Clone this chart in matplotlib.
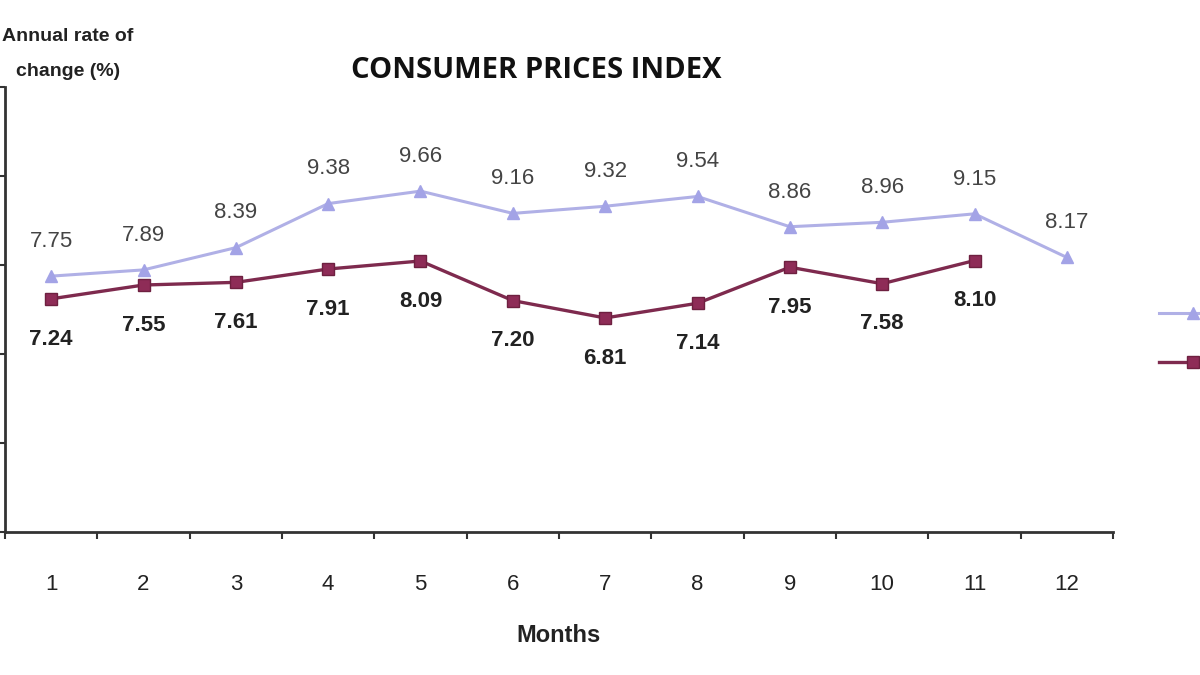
import matplotlib
matplotlib.use("Agg")
import matplotlib.pyplot as plt
from matplotlib.ticker import FixedLocator, NullFormatter

plt.rcParams['font.family'] = ['Liberation Sans', 'DejaVu Sans']

months = [1, 2, 3, 4, 5, 6, 7, 8, 9, 10, 11, 12]
month_labels = [str(m) for m in months]
prev_year = [7.75, 7.89, 8.39, 9.38, 9.66, 9.16, 9.32, 9.54, 8.86, 8.96, 9.15, 8.17]
this_year = [7.24, 7.55, 7.61, 7.91, 8.09, 7.20, 6.81, 7.14, 7.95, 7.58, 8.10]
series_names = ['2011', '2012']
y_ticks = [2, 4, 6, 8, 10, 12]

fig = plt.figure(figsize=(12, 6.75), dpi=100)
ax = fig.add_axes([5/1200, 1-532/675, 1108/1200, 445/675])

up_col = '#B0B0E6'
low_col = '#7E2A4E'

l1, = ax.plot(months, prev_year, color=up_col, lw=2.2, marker='^', ms=8,
              mfc='#A3A3E6', mec='#A3A3E6', clip_on=False, label=series_names[0])
l2, = ax.plot(months[:len(this_year)], this_year, color=low_col, lw=2.4,
              marker='s', ms=9, mfc='#8E2C57', mec='#6E2040', clip_on=False,
              label=series_names[1])

for m, v in zip(months, prev_year):
    ax.annotate('%.2f' % v, (m, v), xytext=(0, 25), textcoords='offset points',
                ha='center', va='center', fontsize=16, color='#444444')
for m, v in zip(months, this_year):
    ax.annotate('%.2f' % v, (m, v), xytext=(0, -29), textcoords='offset points',
                ha='center', va='center', fontsize=16, fontweight='bold',
                color='#222222')

ax.set_xlim(0.5, 12.5)
ax.set_ylim(2, 12)
# the value labels of the y axis lie outside the cropped picture
ax.set_yticks(y_ticks)
ax.set_yticklabels([])
ax.set_xticks(months)
ax.set_xticklabels(month_labels, fontsize=16, color='#222222')
ax.tick_params(axis='x', which='major', length=0, pad=30)
ax.xaxis.set_minor_locator(FixedLocator([m + 0.5 for m in [0] + months]))
ax.xaxis.set_minor_formatter(NullFormatter())
ax.tick_params(axis='x', which='minor', length=5, width=1.5, color='#333333')
ax.tick_params(axis='y', length=5, width=1.5, color='#333333')

for s in ['top', 'right']:
    ax.spines[s].set_visible(False)
for s in ['left', 'bottom']:
    ax.spines[s].set_linewidth(2)
    ax.spines[s].set_color('#333333')

ax.set_xlabel('Months', fontsize=17, fontweight='bold', labelpad=21, color='#222222')

fig.text(536/1200, 1-70/675, 'CONSUMER PRICES INDEX', ha='center', va='center',
         fontsize=21, fontweight='bold', family=['Open Sans', 'DejaVu Sans'],
         color='#111111')
fig.text(2/1200, 1-54/675, 'Annual rate of\nchange (%)', ha='left', va='center',
         multialignment='center', fontsize=14, fontweight='bold',
         linespacing=2.35, color='#222222')

# legend: only the keys are inside the picture, as in the reference
fig.legend(handles=[l1, l2], labels=['', ''], loc='upper left',
           bbox_to_anchor=(1141/1200, 1-289/675), frameon=False,
           handlelength=3.5, labelspacing=1.6, fontsize=14)

fig.savefig('out.png', dpi=100, facecolor='white')
